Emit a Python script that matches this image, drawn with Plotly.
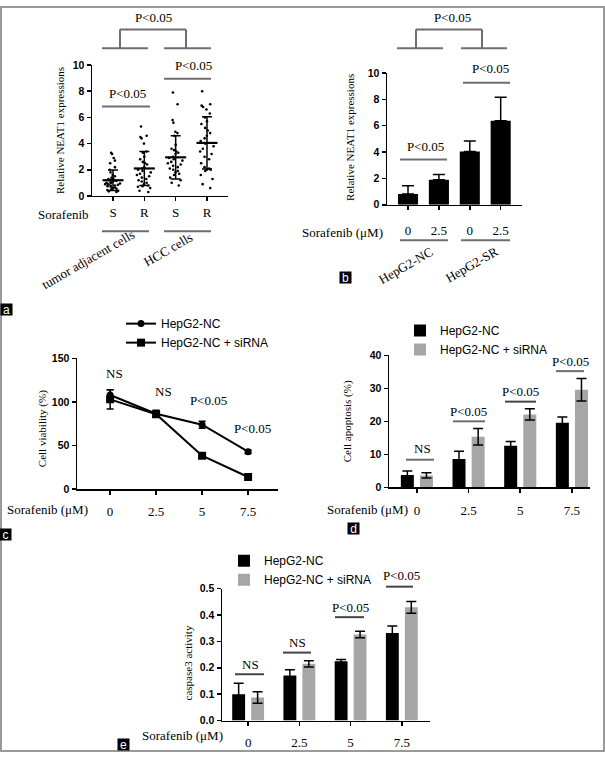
import plotly.graph_objects as go

W, H = 605, 758


def px(x):
    return x / W


def py(y):
    return 1 - y / H


SERIF = "Liberation Serif, Times New Roman, serif"
SANS = "Liberation Sans, Arial, sans-serif"
LINEGRAY = "#6e6e6e"
BARGRAY = "#a6a6a6"

# ---------------- data ----------------
# panel a: individual NEAT1 values
a_ticklabels = ["S", "R", "S", "R"]
a_adj_S = [3.3, 3.2, 2.9, 2.7, 2.5, 2.2, 2.0, 1.8, 1.6, 1.5, 1.4, 1.35, 1.3, 1.25,
           1.2, 1.15, 1.1, 1.05, 1.0, 1.0, 0.95, 0.9, 0.9, 0.85, 0.8, 0.8, 0.75,
           0.7, 0.65, 0.6, 0.55, 0.5, 0.45, 0.4, 0.35, 0.3]
a_adj_R = [5.3, 4.6, 4.5, 4.4, 4.0, 3.4, 3.3, 3.0, 2.8, 2.6, 2.5, 2.4, 2.2, 2.1,
           2.0, 1.9, 1.8, 1.7, 1.6, 1.5, 1.4, 1.3, 1.2, 1.1, 1.0, 0.9, 0.8, 0.75,
           0.7, 0.6, 0.4, 0.3]
a_hcc_S = [7.9, 7.0, 5.8, 5.6, 4.9, 4.8, 4.6, 3.9, 3.6, 3.5, 3.4, 3.3, 3.2, 3.0,
           2.9, 2.8, 2.7, 2.6, 2.5, 2.4, 2.3, 2.2, 2.1, 2.0, 1.9, 1.8, 1.7, 1.6,
           1.4, 1.2, 1.0, 0.8]
a_hcc_R = [8.0, 7.0, 6.9, 6.8, 6.6, 6.3, 6.0, 5.7, 5.5, 5.2, 5.0, 4.8, 4.6, 4.4,
           4.2, 4.0, 3.8, 3.6, 3.4, 3.2, 3.0, 2.8, 2.5, 2.2, 2.1, 2.0, 2.0, 1.9,
           1.6, 1.3, 0.9, 0.6]
a_means = [1.2, 2.1, 2.95, 4.05]
a_sd = [0.78, 1.3, 1.65, 2.0]

# panel b
b_ticklabels = ["0", "2.5", "0", "2.5"]
b_values = [0.82, 1.9, 4.05, 6.37]
b_err = [0.62, 0.4, 0.78, 1.78]
b_zero = [0, 0, 0, 0]

# dose labels shared by c, d, e
doses = ["0", "2.5", "5", "7.5"]

# panel c: cell viability (%)
c_nc = [108, 86.5, 74, 43]
c_nc_err = [6, 4, 4, 2]
c_si = [103, 86, 38.5, 14]
c_si_err = [11, 3, 2, 2]

# panel d: cell apoptosis (%)
d_nc = [3.7, 8.6, 12.6, 19.6]
d_nc_err = [1.2, 2.3, 1.3, 1.7]
d_si = [3.6, 15.3, 22.1, 29.6]
d_si_err = [0.8, 2.5, 1.7, 3.4]

# panel e: caspase3 activity
e_nc = [0.1, 0.171, 0.225, 0.332]
e_nc_err = [0.041, 0.021, 0.006, 0.026]
e_si = [0.087, 0.215, 0.326, 0.429]
e_si_err = [0.022, 0.012, 0.012, 0.022]

name_nc = "HepG2-NC"
name_si = "HepG2-NC + siRNA"

# ---------------- figure ----------------
fig = go.Figure()
idx = [0, 1, 2, 3]

# panel a
for i, vals in enumerate([a_adj_S, a_adj_R, a_hcc_S, a_hcc_R]):
    fig.add_trace(go.Box(
        x=[idx[i]] * len(vals), y=vals, boxpoints="all", jitter=0.85, pointpos=0,
        width=0.6, fillcolor="rgba(0,0,0,0)", line=dict(width=0, color="rgba(0,0,0,0)"),
        whiskerwidth=0, marker=dict(size=2.6, color="black"), showlegend=False,
        xaxis="x", yaxis="y", hoverinfo="y"))
fig.add_trace(go.Scatter(
    x=idx, y=a_means, mode="markers", showlegend=False, xaxis="x", yaxis="y",
    marker=dict(symbol="line-ew", size=15, color="black", line=dict(width=2.2, color="black")),
    error_y=dict(type="data", array=a_sd, width=5, thickness=1.5, color="black")))

# panel b
fig.add_trace(go.Bar(
    x=idx, y=b_values, width=0.65, marker=dict(color="black", line=dict(width=0)),
    showlegend=False, xaxis="x2", yaxis="y2",
    error_y=dict(type="data", symmetric=False, array=b_err, arrayminus=b_zero,
                 width=6, thickness=1.5, color="black")))

# panel c
fig.add_trace(go.Scatter(
    x=idx, y=c_nc, name=name_nc, mode="lines+markers", legend="legend",
    line=dict(color="black", width=2), marker=dict(symbol="circle", size=7, color="black"),
    error_y=dict(type="data", array=c_nc_err, width=3.5, thickness=1.5, color="black"),
    xaxis="x3", yaxis="y3"))
fig.add_trace(go.Scatter(
    x=idx, y=c_si, name=name_si, mode="lines+markers", legend="legend",
    line=dict(color="black", width=2), marker=dict(symbol="square", size=8, color="black"),
    error_y=dict(type="data", array=c_si_err, width=3.5, thickness=1.5, color="black"),
    xaxis="x3", yaxis="y3"))

# panel d
fig.add_trace(go.Bar(
    x=idx, y=d_nc, name=name_nc, legend="legend2", marker=dict(color="black", line=dict(width=0)),
    error_y=dict(type="data", array=d_nc_err, width=5, thickness=1.5, color="black"),
    xaxis="x4", yaxis="y4"))
fig.add_trace(go.Bar(
    x=idx, y=d_si, name=name_si, legend="legend2", marker=dict(color=BARGRAY, line=dict(width=0)),
    error_y=dict(type="data", array=d_si_err, width=5, thickness=1.5, color="black"),
    xaxis="x4", yaxis="y4"))

# panel e
fig.add_trace(go.Bar(
    x=idx, y=e_nc, name=name_nc, legend="legend3", marker=dict(color="black", line=dict(width=0)),
    error_y=dict(type="data", array=e_nc_err, width=5, thickness=1.5, color="black"),
    xaxis="x5", yaxis="y5"))
fig.add_trace(go.Bar(
    x=idx, y=e_si, name=name_si, legend="legend3", marker=dict(color=BARGRAY, line=dict(width=0)),
    error_y=dict(type="data", array=e_si_err, width=5, thickness=1.5, color="black"),
    xaxis="x5", yaxis="y5"))


def xax(x0, x1, rng, ticktext, anchor, standoff):
    return dict(domain=[px(x0), px(x1)], range=rng, tickmode="array", tickvals=idx,
                ticktext=ticktext, anchor=anchor, showline=True, linecolor="black",
                linewidth=1.5, ticks="outside", ticklen=4, tickwidth=1.5, tickcolor="black",
                tickfont=dict(family=SERIF, size=13, color="black"), showgrid=False,
                zeroline=False, fixedrange=True, ticklabelstandoff=standoff)


def yax(y0, y1, rng, dtick, anchor, fmt=""):
    return dict(domain=[py(y1), py(y0)], range=rng, dtick=dtick, tick0=0, anchor=anchor,
                showline=True, linecolor="black", linewidth=1.5, ticks="outside", ticklen=4,
                tickwidth=1.5, tickcolor="black", tickformat=fmt,
                tickfont=dict(family=SANS, size=10.5, color="black", weight="bold"),
                showgrid=False, zeroline=False, fixedrange=True)


legend_style = dict(font=dict(family=SANS, size=12, color="black"), bgcolor="rgba(0,0,0,0)",
                    borderwidth=0, xanchor="left", yanchor="top", itemwidth=30,
                    tracegroupgap=0)

fig.update_layout(
    width=W, height=H, margin=dict(l=0, r=0, t=0, b=0), autosize=False,
    paper_bgcolor="white", plot_bgcolor="white",
    barmode="group", bargap=0.26, bargroupgap=0.32,
    xaxis=xax(92, 228, [-0.67, 3.67], a_ticklabels, "y", 0),
    yaxis=yax(60, 193, [0, 10], 2, "x"),
    xaxis2=xax(387, 522, [-0.68, 3.69], b_ticklabels, "y2", 9),
    yaxis2=yax(68, 202, [0, 10], 2, "x2"),
    xaxis3=xax(77, 278, [-0.72, 3.65], doses, "y3", 6),
    yaxis3=yax(358, 491, [0, 150], 50, "x3"),
    xaxis4=xax(389, 590, [-0.54, 3.35], doses, "y4", 7),
    yaxis4=yax(355, 489, [0, 40], 10, "x4"),
    xaxis5=xax(222, 430, [-0.51, 3.55], doses, "y5", 5),
    yaxis5=yax(592, 726, [0, 0.5], 0.1, "x5", ".1f"),
    legend=dict(x=px(121), y=py(308), **legend_style),
    legend2=dict(x=px(400), y=py(315), **legend_style),
    legend3=dict(x=px(224), y=py(549), **legend_style),
)

ann = []
shapes = []


def text(x, y, t, size=13, family=SERIF, angle=0, color="black"):
    ann.append(dict(x=px(x), y=py(y), xref="paper", yref="paper", text=t, showarrow=False,
                    xanchor="center", yanchor="middle", textangle=angle,
                    font=dict(family=family, size=size, color=color)))


def hline(x0, x1, y, color=LINEGRAY, w=2):
    shapes.append(dict(type="line", xref="paper", yref="paper", x0=px(x0), x1=px(x1),
                       y0=py(y), y1=py(y), line=dict(color=color, width=w)))


def vline(x, y0, y1, color=LINEGRAY, w=2):
    shapes.append(dict(type="line", xref="paper", yref="paper", x0=px(x), x1=px(x),
                       y0=py(y0), y1=py(y1), line=dict(color=color, width=w)))


def letter(x, y, t):
    ann.append(dict(x=px(x), y=py(y), xref="paper", yref="paper", text=t, showarrow=False,
                    xanchor="center", yanchor="middle", bgcolor="black", width=11, height=11,
                    borderpad=0, font=dict(family=SANS, size=12, color="white")))


# ---- panel a annotations
text(153, 12, "P&lt;0.05")
hline(102, 148, 43); hline(164, 211, 43)
vline(120, 43, 24); hline(120, 186, 24); vline(186, 24, 43)
hline(102, 150, 102); text(127, 89, "P&lt;0.05")
hline(164, 211, 74); text(193, 60, "P&lt;0.05")
text(60, 127, "Relative NEAT1 expressions", size=11, angle=-90)
text(63, 212, "Sorafenib")
hline(102, 149, 229); hline(164, 211, 229)
text(88, 258, "tumor adjacent cells", angle=-30)
text(168, 247, "HCC cells", angle=-30)
letter(6, 308, "a")

# ---- panel b annotations
text(452, 12, "P&lt;0.05")
hline(397, 443, 43); hline(461, 507, 43)
vline(416, 43, 24); hline(416, 482, 24); vline(482, 24, 43)
hline(400, 447, 156); text(425, 143, "P&lt;0.05")
hline(463, 510, 78); text(490, 63, "P&lt;0.05")
text(350, 134, "Relative NEAT1 expressions", size=11, angle=-90)
text(342, 230, "Sorafenib (μM)")
hline(400, 448, 238); hline(461, 510, 238)
text(406, 264, "HepG2-NC", angle=-30)
text(472, 263, "HepG2-SR", angle=-30)
letter(345, 276, "b")

# ---- panel c annotations
text(114, 373, "NS"); text(164, 392, "NS")
text(208, 401, "P&lt;0.05"); text(253, 429, "P&lt;0.05")
text(42, 430, "Cell viability (%)", size=11, angle=-90)
text(47, 512, "Sorafenib (μM)")
letter(5, 537, "c")

# ---- panel d annotations
hline(406, 434, 461); text(422, 450, "NS")
hline(453, 485, 422); text(468, 412, "P&lt;0.05")
hline(505, 536, 402, color="#444"); text(520, 392, "P&lt;0.05")
hline(556, 584, 371); text(570, 361, "P&lt;0.05")
text(347, 422, "Cell apoptosis (%)", size=11, angle=-90)
text(368, 512, "Sorafenib (μM)")
letter(353, 531, "d")

# ---- panel e annotations
hline(235, 264, 679, color="#444"); text(250, 669, "NS")
hline(283, 311, 657, color="#444"); text(297, 647, "NS")
hline(335, 364, 621, color="#444"); text(350, 611, "P&lt;0.05")
hline(386, 413, 590, color="#444"); text(401, 579, "P&lt;0.05")
text(188, 668, "caspase3 activity", size=11, angle=-90)
text(182, 741, "Sorafenib (μM)")
letter(123, 750, "e")

# outer frame
shapes.append(dict(type="rect", xref="paper", yref="paper", x0=px(1), x1=px(604),
                   y0=py(757), y1=py(1), line=dict(color="#9a9a9a", width=2)))

fig.update_layout(annotations=ann, shapes=shapes)
fig.write_html("out.html", config={"displayModeBar": False, "staticPlot": True})

# remove the default page margin so the figure sits at the window's top-left corner
with open("out.html", "r", encoding="utf-8") as f:
    html = f.read()
html = html.replace("<head>", "<head><style>html,body{margin:0;padding:0;overflow:hidden;}</style>", 1)
with open("out.html", "w", encoding="utf-8") as f:
    f.write(html)
